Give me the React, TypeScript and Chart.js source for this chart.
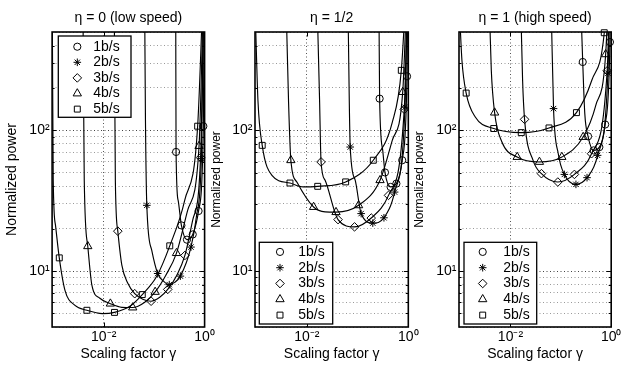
import React, { useEffect, useRef } from 'react';
import { Chart, registerables } from 'chart.js';
import { drawPoint } from 'chart.js/helpers';

Chart.register(...registerables);

const FONT = "'Liberation Sans', Arial, Helvetica, sans-serif";

// ---------- data ----------
const seriesLabels = ['1b/s', '2b/s', '3b/s', '4b/s', '5b/s'];

// scaling factor of the simulated points, per bit rate
const gamma1 = [0.272, 0.347, 0.447, 0.582, 0.759, 0.944];
const gamma2 = [0.0716, 0.1175, 0.1995, 0.331, 0.537, 0.861];
const gamma3 = [0.01905, 0.0412, 0.0871, 0.186, 0.407, 0.832];
const gamma4 = [0.00484, 0.01358, 0.0376, 0.1047, 0.2773, 0.776];
const gamma5 = [0.001318, 0.004645, 0.01637, 0.0582, 0.204, 0.728];

// eta = 0 (low speed): simulated normalized power
const low1 = [70.2, 21.1, 16.7, 18.2, 26.7, 107];
const low2 = [29.3, 9.6, 8.0, 9.2, 14.8, 63];
const low3 = [19.2, 6.9, 6.1, 7.4, 12.9, 64];
const low4 = [15.0, 5.86, 5.5, 7.1, 13.4, 77.3];
const low5 = [12.4, 5.26, 5.08, 6.8, 15.1, 107];

// eta = 1/2
const half1 = [168, 50.2, 39.6, 41.8, 61.3, 242];
const half2 = [76.1, 25.6, 21.9, 23.9, 36.4, 146];
const half3 = [59.6, 23.2, 20.6, 23.8, 34.5, 141];
const half4 = [61.3, 28.5, 26.2, 29.3, 44.2, 187];
const half5 = [78.2, 42.2, 40, 43, 61.3, 267];

// eta = 1 (high speed)
const high1 = [306, 90.6, 72, 76, 110, 424];
const high2 = [142.7, 48.6, 41.3, 46.1, 66.4, 255];
const high3 = [119.7, 49.2, 42.9, 48.6, 68.2, 265];
const high4 = [133.6, 64.6, 59.6, 64.6, 89.6, 347];
const high5 = [184, 103, 96.3, 104, 133.6, 494];

// fitted curves [gamma, power]
const lowFit1: [number, number][] = [[0.268, 605], [0.272, 70.2], [0.299, 31.8], [0.347, 21.1], [0.447, 16.7], [0.582, 18.2], [0.759, 26.7], [0.944, 107], [0.995, 2000]];
const lowFit2: [number, number][] = [[0.0652, 605], [0.0673, 118], [0.0716, 29.3], [0.0897, 14.0], [0.1175, 9.6], [0.1549, 8.45], [0.1995, 8.0], [0.2554, 8.3], [0.331, 9.2], [0.537, 14.8], [0.695, 24.9], [0.861, 63], [0.995, 2000]];
const lowFit3: [number, number][] = [[0.01626, 605], [0.01703, 44.2], [0.01905, 19.2], [0.0229, 11.0], [0.0301, 8.18], [0.0412, 6.9], [0.0595, 6.3], [0.0871, 6.1], [0.129, 6.5], [0.186, 7.4], [0.28, 9.3], [0.407, 12.9], [0.579, 22.9], [0.832, 64], [0.995, 2000]];
const lowFit4: [number, number][] = [[0.0039, 605], [0.00412, 44.2], [0.00484, 15.0], [0.00585, 7.9], [0.0084, 6.4], [0.01358, 5.86], [0.0229, 5.52], [0.0376, 5.5], [0.0652, 6.0], [0.1047, 7.1], [0.1695, 9.3], [0.2773, 13.4], [0.461, 27], [0.776, 77.3], [0.995, 2000]];
const lowFit5: [number, number][] = [[0.00096, 605], [0.001, 44.2], [0.00111, 21.1], [0.001318, 12.4], [0.00171, 7.29], [0.0027, 5.7], [0.004645, 5.26], [0.00942, 4.98], [0.01637, 5.08], [0.033, 5.61], [0.0582, 6.8], [0.1125, 9.17], [0.204, 15.1], [0.403, 31.8], [0.728, 107], [0.995, 2000]];

const halfFit1: [number, number][] = [[0.265, 605], [0.272, 168], [0.313, 72.1], [0.347, 50.2], [0.447, 39.6], [0.582, 41.8], [0.759, 61.3], [0.944, 242], [0.995, 2000]];
const halfFit2: [number, number][] = [[0.0652, 605], [0.0716, 76.1], [0.0897, 44.2], [0.1175, 25.6], [0.1995, 21.9], [0.331, 23.9], [0.537, 36.4], [0.861, 146], [0.995, 2000]];
const halfFit3: [number, number][] = [[0.01626, 605], [0.01782, 163], [0.01905, 59.6], [0.0229, 44.2], [0.0412, 23.2], [0.0871, 20.6], [0.186, 23.8], [0.407, 34.5], [0.832, 141], [0.995, 2000]];
const halfFit4: [number, number][] = [[0.00397, 605], [0.00435, 163], [0.00484, 61.3], [0.0064, 42.7], [0.01358, 28.5], [0.0229, 26.3], [0.0376, 26.2], [0.1047, 29.3], [0.2773, 44.2], [0.483, 84.9], [0.776, 187], [0.995, 2000]];
const halfFit5: [number, number][] = [[0.00097, 605], [0.001086, 163], [0.001318, 78.2], [0.00205, 47.9], [0.004645, 42.2], [0.0084, 39.6], [0.01637, 40], [0.0582, 43], [0.204, 61.3], [0.483, 114], [0.728, 267], [0.995, 2000]];

const highFit1: [number, number][] = [[0.2554, 605], [0.272, 306], [0.299, 131.4], [0.347, 90.6], [0.447, 72], [0.582, 76], [0.759, 110], [0.944, 424], [0.995, 3000]];
const highFit2: [number, number][] = [[0.0652, 605], [0.0716, 142.7], [0.0889, 68.2], [0.1175, 48.6], [0.1995, 41.3], [0.331, 46.1], [0.537, 66.4], [0.861, 255], [0.995, 3000]];
const highFit3: [number, number][] = [[0.01626, 605], [0.0174, 227], [0.01905, 119.7], [0.0281, 61.2], [0.0412, 49.2], [0.0871, 42.9], [0.186, 48.6], [0.407, 68.2], [0.832, 265], [0.995, 3000]];
const highFit4: [number, number][] = [[0.00388, 605], [0.00416, 267], [0.00484, 133.6], [0.00676, 82.6], [0.01358, 64.6], [0.0376, 59.6], [0.1047, 64.6], [0.2773, 89.6], [0.494, 150.6], [0.776, 347], [0.995, 3000]];
const highFit5: [number, number][] = [[0.00099, 605], [0.001086, 315], [0.001318, 184], [0.002, 124.4], [0.004645, 103], [0.01637, 96.3], [0.0582, 104], [0.204, 133.6], [0.412, 227], [0.728, 494], [0.995, 3000]];

// axes
const xMin = 0.00095;
const xMax = 1;
const yMin = 4;
const yMax = 500;
const xTickValues = [0.01, 1];
const xTickLabels: Record<string, string> = { '0.01': '10⁻²', '1': '10⁰' };
const yTickValues = [4, 5, 6, 7, 8, 9, 10, 20, 30, 40, 50, 60, 70, 80, 90, 100, 200, 300, 400, 500];
const yTickLabels: Record<string, string> = { '10': '10¹', '100': '10²' };
const yMajor = [10, 100];

// ---------- styling ----------
const gammas = [gamma1, gamma2, gamma3, gamma4, gamma5];
const pointStyles = ['circle', 'star', 'rectRot', 'triangle', 'rect'];
const pointRadii = [3.6, 3.8, 4.3, 4.8, 4.2];

type LegendCfg = { pos: 'top' | 'bottom'; dx: number; dy: number; w: number; h: number; markerDx: number; textDx: number; row0: number; rowStep: number };
type PanelCfg = {
  title: string;
  left: number;
  width: number;
  yAxisWidth: number;
  padRight: number;
  yTitleSize: number;
  yTitleOffset: number;
  markers: number[][];
  curves: [number, number][][];
  legend: LegendCfg;
};

const panels: PanelCfg[] = [
  {
    title: 'η = 0 (low speed)', left: 0, width: 222, yAxisWidth: 52.1, padRight: 17.4,
    yTitleSize: 14, yTitleOffset: 12.5,
    markers: [low1, low2, low3, low4, low5],
    curves: [lowFit1, lowFit2, lowFit3, lowFit4, lowFit5],
    legend: { pos: 'top', dx: 6.2, dy: 4, w: 72.7, h: 81.3, markerDx: 19, textDx: 35, row0: 10.7, rowStep: 15.6 },
  },
  {
    title: 'η = 1/2', left: 206, width: 216, yAxisWidth: 49, padRight: 13.7,
    yTitleSize: 12, yTitleOffset: 11,
    markers: [half1, half2, half3, half4, half5],
    curves: [halfFit1, halfFit2, halfFit3, halfFit4, halfFit5],
    legend: { pos: 'bottom', dx: 4.3, dy: 3, w: 73.4, h: 81.7, markerDx: 20.7, textDx: 39, row0: 9.6, rowStep: 15.8 },
  },
  {
    title: 'η = 1 (high speed)', left: 410, width: 211, yAxisWidth: 49, padRight: 9.8,
    yTitleSize: 12, yTitleOffset: 10,
    markers: [high1, high2, high3, high4, high5],
    curves: [highFit1, highFit2, highFit3, highFit4, highFit5],
    legend: { pos: 'bottom', dx: 5, dy: 3, w: 72.7, h: 81.7, markerDx: 18.7, textDx: 39.3, row0: 9.6, rowStep: 15.8 },
  },
];

const decorPlugin = {
  id: 'panelDecor',
  afterDatasetsDraw(chart: any, _args: any, opts: any) {
    const { ctx, chartArea: a, scales } = chart;
    const xs = scales.x;
    const ys = scales.y;
    ctx.save();
    ctx.strokeStyle = '#000';
    ctx.lineWidth = 1;
    ctx.setLineDash([]);
    ctx.beginPath();
    for (const v of yTickValues) {
      if (v <= yMin || v >= yMax) continue;
      const py = Math.round(ys.getPixelForValue(v)) + 0.5;
      const len = yMajor.includes(v) ? 4.5 : 2.5;
      ctx.moveTo(a.left, py);
      ctx.lineTo(a.left + len, py);
      ctx.moveTo(a.right, py);
      ctx.lineTo(a.right - len, py);
    }
    for (const v of xTickValues) {
      if (v <= xMin || v >= xMax) continue;
      const px = Math.round(xs.getPixelForValue(v)) + 0.5;
      ctx.moveTo(px, a.top);
      ctx.lineTo(px, a.top + 4.5);
      ctx.moveTo(px, a.bottom);
      ctx.lineTo(px, a.bottom - 4.5);
    }
    ctx.stroke();
    // frame
    ctx.lineWidth = 1.6;
    ctx.strokeRect(a.left, a.top, a.right - a.left, a.bottom - a.top);

    // legend
    const lg: LegendCfg = opts.legend;
    const fx = a.left + lg.dx;
    const fy = lg.pos === 'top' ? a.top + lg.dy : a.bottom - lg.dy - lg.h;
    ctx.fillStyle = '#fff';
    ctx.fillRect(fx, fy, lg.w, lg.h);
    ctx.lineWidth = 1.3;
    ctx.strokeRect(fx, fy, lg.w, lg.h);
    const markerSets = chart.data.datasets.filter((d: any) => d.isMarker);
    markerSets.forEach((d: any, k: number) => {
      const y = fy + lg.row0 + k * lg.rowStep;
      ctx.lineWidth = 1;
      ctx.strokeStyle = '#000';
      ctx.fillStyle = 'rgba(0,0,0,0)';
      drawPoint(ctx, { pointStyle: d.pointStyle, radius: d.pointRadius, rotation: 0, borderWidth: 1 } as any, fx + lg.markerDx, y);
      ctx.fillStyle = '#000';
      ctx.font = `14px ${FONT}`;
      ctx.textBaseline = 'middle';
      ctx.textAlign = 'left';
      ctx.fillText(d.label, fx + lg.textDx, y);
    });
    ctx.restore();
  },
};

function Panel({ cfg }: { cfg: PanelCfg }) {
  const ref = useRef<HTMLCanvasElement>(null);
  useEffect(() => {
    const datasets: any[] = [];
    cfg.curves.forEach((c, i) => {
      datasets.push({
        label: seriesLabels[i] + ' fit',
        data: c.map(([x, y]) => ({ x, y })),
        showLine: true,
        pointRadius: 0,
        pointHoverRadius: 0,
        borderColor: '#000',
        borderWidth: 1.15,
        borderDash: [],
        cubicInterpolationMode: 'monotone',
        fill: false,
        clip: 0,
      });
    });
    cfg.markers.forEach((m, i) => {
      datasets.push({
        label: seriesLabels[i],
        isMarker: true,
        data: gammas[i].map((g, j) => ({ x: g, y: m[j] })),
        showLine: false,
        pointStyle: pointStyles[i],
        pointRadius: pointRadii[i],
        pointBorderWidth: 1,
        borderWidth: 1,
        borderColor: '#000',
        backgroundColor: 'rgba(0,0,0,0)',
        clip: 8,
      });
    });

    const chart = new Chart(ref.current as HTMLCanvasElement, {
      type: 'scatter',
      data: { datasets },
      plugins: [decorPlugin],
      options: {
        responsive: false,
        animation: false,
        events: [],
        layout: { padding: { left: 0, right: cfg.padRight, top: 0, bottom: 0 } },
        elements: { line: { capBezierPoints: false } },
        scales: {
          x: {
            type: 'logarithmic',
            min: xMin,
            max: xMax,
            afterBuildTicks: (s: any) => { s.ticks = xTickValues.map((v) => ({ value: v })); },
            afterFit: (s: any) => { s.height = 39; s.paddingLeft = 0; s.paddingRight = 0; },
            ticks: {
              autoSkip: false,
              maxRotation: 0,
              padding: 2,
              color: '#000',
              font: { family: FONT, size: 14 },
              callback: (v: any) => xTickLabels[String(v)] ?? '',
            },
            grid: { color: '#555', lineWidth: 1, drawTicks: false },
            border: { display: false, dash: [1, 2.5] },
            title: {
              display: true,
              text: 'Scaling factor γ',
              color: '#000',
              font: { family: FONT, size: 14 },
              padding: { top: 0, bottom: 3.2 },
            },
          },
          y: {
            type: 'logarithmic',
            min: yMin,
            max: yMax,
            afterBuildTicks: (s: any) => { s.ticks = yTickValues.map((v) => ({ value: v })); },
            afterFit: (s: any) => { s.width = cfg.yAxisWidth; s.paddingTop = 0; s.paddingBottom = 0; },
            ticks: {
              autoSkip: false,
              padding: 2.5,
              color: '#000',
              font: { family: FONT, size: 14 },
              callback: (v: any) => yTickLabels[String(v)] ?? '',
            },
            grid: {
              color: (c: any) => (c.tick && yMajor.includes(c.tick.value) ? '#444' : '#999'),
              lineWidth: 1,
              drawTicks: false,
            },
            border: { display: false, dash: [1, 2.5] },
            title: {
              display: true,
              text: 'Normalized power',
              color: '#000',
              font: { family: FONT, size: cfg.yTitleSize },
              padding: { top: cfg.yTitleOffset - cfg.yTitleSize * 0.6, bottom: 0 },
            },
          },
        },
        plugins: {
          legend: { display: false },
          tooltip: { enabled: false },
          title: {
            display: true,
            text: cfg.title,
            fullSize: false,
            color: '#000',
            font: { family: FONT, size: 14, weight: 'normal' },
            padding: { top: 9.4, bottom: 5.8 },
          },
          panelDecor: { legend: cfg.legend },
        } as any,
      } as any,
    });
    return () => chart.destroy();
  }, [cfg]);
  return (
    <canvas
      ref={ref}
      width={cfg.width}
      height={366}
      style={{ position: 'absolute', left: cfg.left, top: 0, width: cfg.width, height: 366 }}
    />
  );
}

export default function App() {
  return (
    <div style={{ position: 'absolute', left: 0, top: 0, width: 621, height: 366, background: '#fff', overflow: 'hidden' }}>
      {panels.map((p) => (
        <Panel key={p.title} cfg={p} />
      ))}
    </div>
  );
}
